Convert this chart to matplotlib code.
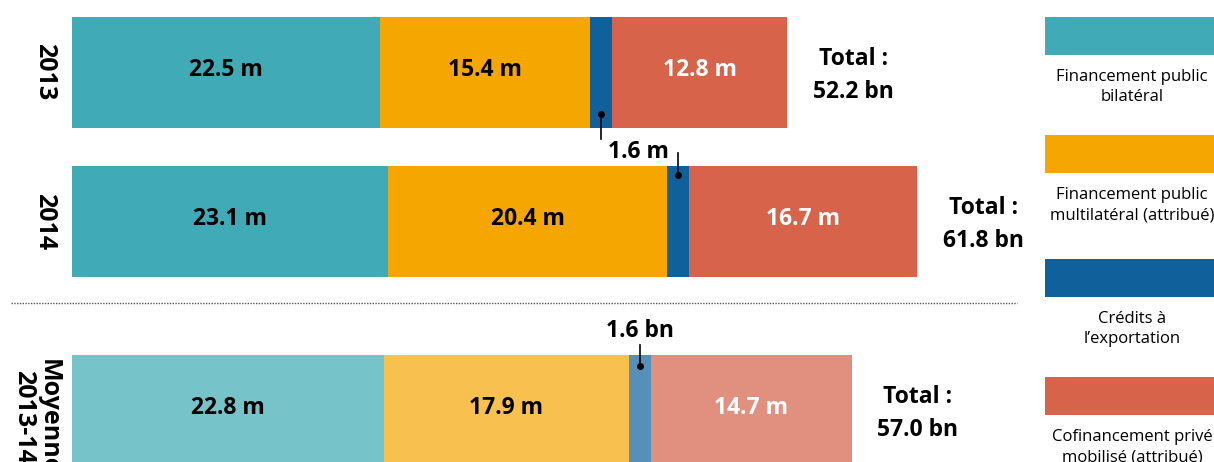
import matplotlib.pyplot as plt
from matplotlib.patches import Rectangle
import numpy as np

plt.rcParams['font.family'] = ['Open Sans', 'DejaVu Sans']

# données
rows = ['2013', '2014', 'Moyenne\n2013-14']
bilateral = [22.5, 23.1, 22.8]
multilateral = [15.4, 20.4, 17.9]
export = [1.6, 1.6, 1.6]
prive = [12.8, 16.7, 14.7]
totals = ['52.2 bn', '61.8 bn', '57.0 bn']
seg_labels = [['22.5 m', '15.4 m', None, '12.8 m'],
              ['23.1 m', '20.4 m', None, '16.7 m'],
              ['22.8 m', '17.9 m', None, '14.7 m']]
export_labels = ['1.6 m', '1.6 bn']
legend_labels = ['Financement public\nbilatéral',
                 'Financement public\nmultilatéral (attribué)',
                 'Crédits à\nl\u2019exportation',
                 'Cofinancement privé\nmobilisé (attribué)']

colors = ['#40ABB6', '#F5A600', '#0F609B', '#D6634A']
colors_light = ['#77C3CA', '#F8C04F', '#5690BA', '#E19080']

W, H = 1214, 462
S = 13.68  # pixels par unité
x0 = 72

fig = plt.figure(figsize=(W / 100, H / 100), dpi=100)
ax = fig.add_axes([0, 0, 1, 1])
ax.set_xlim(-x0 / S, (W - x0) / S)
ax.set_ylim(H, 0)
ax.axis('off')

centers = [72.5, 221.5, 410.5]
bar_h = 111
series = np.array([bilateral, multilateral, export, prive])
lefts = np.vstack([np.zeros(3), np.cumsum(series, axis=0)[:-1]])

for i in range(3):
    cols = colors if i < 2 else colors_light
    for j in range(4):
        ax.barh(centers[i], series[j, i], left=lefts[j, i], height=bar_h,
                color=cols[j], linewidth=0)
        lab = seg_labels[i][j]
        if lab:
            ax.text(lefts[j, i] + series[j, i] / 2, centers[i] - 2.5, lab,
                    ha='center', va='center', fontsize=16.5, fontweight='bold',
                    color='white' if j == 3 else 'black')
    end = series[:, i].sum()
    ax.annotate('Total :\n' + totals[i], xy=(end, centers[i]),
                xytext=(66, -3), textcoords='offset pixels',
                ha='center', va='center', fontsize=16.5, fontweight='bold',
                linespacing=1.45)

# flèches "1.6"
xb = [lefts[2, i] + export[i] / 2 for i in range(3)]
ax.plot([xb[0], xb[0]], [114, 139], color='black', lw=1.2)
ax.plot(xb[0], 114, 'o', color='black', ms=4)
ax.plot([xb[1], xb[1]], [153, 175], color='black', lw=1.2)
ax.plot(xb[1], 175, 'o', color='black', ms=4)
ax.text((xb[0] + xb[1]) / 2 - 0.1, 152, export_labels[0], ha='center', va='center',
        fontsize=16.5, fontweight='bold')
ax.plot([xb[2], xb[2]], [345, 366], color='black', lw=1.2)
ax.plot(xb[2], 366, 'o', color='black', ms=4)
ax.text(xb[2], 331, export_labels[1], ha='center', va='center',
        fontsize=16.5, fontweight='bold')

# libellés des lignes
ax.text(-27 / S, 72, rows[0], rotation=-90, ha='center', va='center',
        fontsize=18, fontweight='bold')
ax.text(-27 / S, 222, rows[1], rotation=-90, ha='center', va='center',
        fontsize=18, fontweight='bold')
ax.text(-36 / S, 359, rows[2], rotation=-90, ha='center', va='top',
        fontsize=18, fontweight='bold', linespacing=1.0)

# ligne pointillée
ax.plot([-61 / S, (1017 - x0) / S], [303, 303], color='#555555', lw=1,
        linestyle=(0, (1, 1)))

# légende
tops = [17, 135, 259, 377]
for k in range(4):
    fig.patches.append(Rectangle((1045 / W, 1 - (tops[k] + 38) / H), 175 / W, 38 / H,
                                 transform=fig.transFigure, color=colors[k], lw=0))
    fig.text(1132 / W, 1 - (tops[k] + 70) / H, legend_labels[k], ha='center', va='center',
             fontsize=12, linespacing=1.35)

fig.savefig('out.png', dpi=100)
